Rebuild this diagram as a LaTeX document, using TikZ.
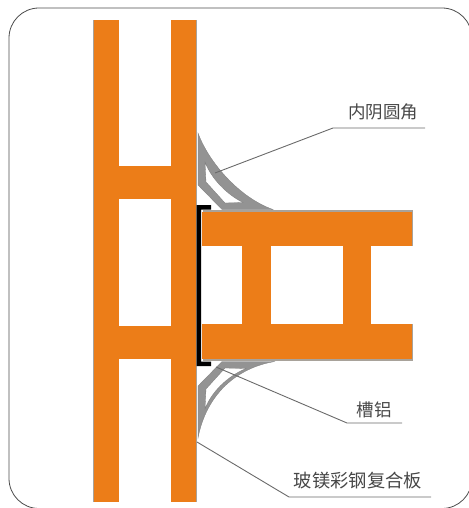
\documentclass[tikz,border=0pt]{standalone}
\usepackage{fontspec}
\newfontfamily\cjk{Noto Sans CJK SC}
\definecolor{panelorange}{HTML}{EC7D18}
\definecolor{shadegray}{HTML}{A8A29A}
\definecolor{covegray}{HTML}{939393}
\definecolor{leadergray}{HTML}{6A6A6A}
\tikzset{
  panelbar/.style={fill=panelorange},
  panelshade/.style={fill=shadegray},
  covefill/.style={fill=covegray,draw=covegray!85!black,line width=.3pt,even odd rule},
  leader/.style={draw=leadergray,line width=.9pt},
  calllabel/.style={font=\cjk\fontsize{17.5}{18}\selectfont,text=black!72,inner sep=0pt},
}

\begin{document}
\begin{tikzpicture}[x=1pt,y=-1pt]
\useasboundingbox (0,0) rectangle (468,508);
\draw[black!70,line width=.8pt,rounded corners=30pt] (9,8) rectangle (472,508.5);

\fill[panelshade] (93,20) rectangle (197,502);
\fill[panelshade] (203,210) rectangle (413,361);
\fill[white] (119,20) rectangle (171,502);
\fill[white] (203,246) rectangle (413,324);

\fill[panelbar] (94,20) rectangle (119,502);
\fill[panelbar] (171,20) rectangle (195.5,502);
\foreach \ytop/\ybot in {166/199,326/359}
  \fill[panelbar] (119,\ytop) rectangle (171,\ybot);
\fill[panelbar] (202,212) rectangle (412,246);
\fill[panelbar] (202,324) rectangle (412,359);
\foreach \xleft/\xright in {242/271,343/371}
  \fill[panelbar] (\xleft,246) rectangle (\xright,324);

\fill[black] (196.5,205) -- (211,205) -- (211,209.5) -- (201,209.5) -- (201,361.5)
  -- (211,361.5) -- (211,366) -- (196.5,366) -- cycle;

\path[covefill] (198,133) .. controls (209,163) and (240,198) .. (273,209.5)
  -- (222,209.5) -- (198,185) -- cycle
  (205,162) .. controls (211,178) and (226,194) .. (243,202.5)
  -- (225,203) -- (206,182) -- cycle;
\path[covefill] (198,438) .. controls (206,396) and (235,368) .. (275,361.5)
  -- (222,361.5) -- (198,386) -- cycle
  (205,409) .. controls (211,393) and (226,377) .. (246,368.5)
  -- (225,368) -- (206,389) -- cycle;

\node[calllabel] (coveLabel) at (383,112) {内阴圆角};
\node[calllabel] (channelLabel) at (374,410) {槽铝};
\node[calllabel,font=\cjk\fontsize{18.3}{19}\selectfont] (boardLabel) at (358,481) {玻镁彩钢复合板};

\coordinate (coveTip) at (215,173);
\coordinate (coveBend) at (333,128);
\coordinate (coveEnd) at (425,128);
\coordinate (channelTip) at (216,367);
\coordinate (channelBend) at (347,423);
\coordinate (channelEnd) at (402,423);
\coordinate (boardTip) at (197,442);
\coordinate (boardBend) at (289,497);
\coordinate (boardEnd) at (431,497);

\draw[leader] (coveTip) -- (coveBend) -- (coveEnd);
\draw[leader] (channelTip) -- (channelBend) -- (channelEnd);
\draw[leader] (boardTip) -- (boardBend) -- (boardEnd);
\end{tikzpicture}
\end{document}
